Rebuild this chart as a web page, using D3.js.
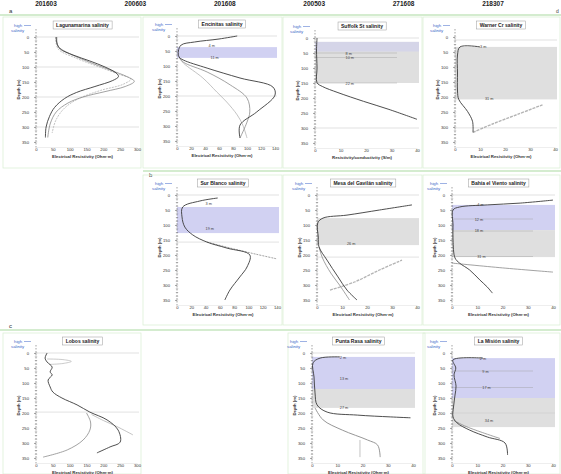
<!DOCTYPE html>
<html>
<head>
<meta charset="utf-8">
<script src="https://cdn.jsdelivr.net/npm/d3@7"></script>
<style>
  html, body { margin: 0; padding: 0; background: #fff; }
  svg { display: block; font-family: "Liberation Sans", Arial, sans-serif; }
</style>
</head>
<body>
<svg id="chart" width="561" height="474"></svg>
<script>
// ---- data -------------------------------------------------------------
const stripLabels = ["201603", "200603", "201608", "200503", "271608", "218307"];
const rowLetters = ["a", "b", "c"];
const depthTicks = [0, 50, 100, 150, 200, 250, 300, 350];
const xTicksWide = [0, 50, 100, 150, 200, 250, 300];
const xTicksMid = [0, 20, 40, 60, 80, 100, 120, 140];
const xTicksNarrow = [0, 10, 20, 30, 40];

// profiles: [value, depth]
const lagunaA = [[60,0],[62,20],[72,40],[110,60],[160,80],[205,100],[238,120],[245,132],[228,145],[175,165],[120,185],[85,205],[55,235],[40,265],[30,300],[28,335]];
const lagunaB = [[62,0],[65,30],[90,50],[150,80],[220,110],[272,133],[292,148],[265,165],[205,182],[140,200],[95,220],[60,250],[42,290],[35,335]];
const lagunaC = [[58,0],[66,40],[118,70],[188,100],[248,125],[282,140],[258,158],[192,178],[122,208],[82,240],[58,280],[48,320]];

const encinitasA = [[86,0],[60,10],[25,20],[6,30],[2,50],[3,70],[9,80],[43,107],[90,140],[137,170],[140,197],[114,253],[90,297],[90,340]];
const encinitasB = [[3,70],[9,87],[43,120],[76,163],[100,207],[104,253],[100,287],[90,340]];
const encinitasC = [[3,72],[9,90],[37,140],[57,187],[71,220],[86,263],[94,297],[100,340]];

const suffolkA = [[0.8,0],[0.6,40],[0.8,100],[0.8,149],[3,162],[9,182],[19,211],[29,238],[40,271]];

const warnerA = [[10,33],[2,33],[1,60],[1,120],[1,180],[1.5,208],[5,248],[7,281],[7.2,318]];
const warnerB = [[7.2,318],[15,290],[25,258],[35,226]];

const surA = [[57,10],[32,20],[8,40],[7,73],[11,107],[22,133],[42,157],[70,177],[102,200],[98,240],[88,273],[74,317],[67,350]];
const surB = [[42,157],[80,180],[110,197],[140,213]];

const mesaA = [[38,33],[25,50],[12,67],[2.4,77],[0.3,93],[0.5,140],[0.8,173],[4,217],[8.4,273],[12,317],[16,350]];
const mesaB = [[0.8,173],[2.2,210],[5.5,260],[9,300],[13,350]];
const mesaC = [[5.2,317],[15,290],[25,250],[34,217]];

const bahiaA = [[40,17],[27,27],[14,33],[3,40],[0.4,50],[0.4,100],[0.4,150],[1.2,210],[3,227],[7,250],[11,283],[14,307],[16,327]];
const bahiaB = [[0,227],[20,243],[40,257]];

const lobosA = [[33,0],[27,17],[33,30],[48,47],[42,63],[48,73],[36,90],[42,113],[50,130],[77,150],[122,173],[160,197],[211,223],[244,257],[250,297],[220,313],[181,333]];
const lobosB = [[150,200],[162,230],[160,257],[140,290],[93,323],[21,347]];
const lobosC = [[165,205],[200,225],[240,245],[288,273]];
const lobosD = [[33,20],[80,22],[105,28],[80,35],[40,38]];

const puntaA = [[11,13],[3.2,17],[0.4,33],[0.8,80],[1.2,133],[2,173],[6,197],[18,207],[31,213],[39,216]];
const puntaB = [[1.2,183],[4.4,223],[12,257],[22,290],[26,307],[27,347]];
const puntaC = [[19,290],[19,347]];

const misionA = [[12.3,17],[0.4,23],[1.5,50],[0.8,73],[1.6,110],[1.2,140],[0.6,180],[0.4,213],[2,233],[7,257],[14,280],[21,300],[22,340]];
const misionB = [[0.8,225],[5,243],[12,265],[19,285]];

// ---- layout / panel definitions --------------------------------------
const DARK = "#3a3a3a", GRAY = "#8a8a8a", LIGHT = "#b4b4b4";
const BLUE = "#c9c9f0", GREY = "#d9d9d9";

const panels = [
  { box:[3,17,138,151], left:36, right:137, top:37, xMax:300, xTicks:xTicksWide,
    title:"Lagunamarina salinity", xTitle:"Electrical Resistivity (Ohm·m)",
    bands:[], grid:[0,100,200,300],
    lines:[{d:lagunaC, c:LIGHT, w:0.8, dash:"2,1"},{d:lagunaB, c:GRAY, w:0.8},{d:lagunaA, c:DARK, w:0.9}], notes:[] },
  { box:[143,17,139,151], left:177, right:275, top:36, xMax:140, xTicks:xTicksMid,
    title:"Encinitas salinity", xTitle:"Electrical Resistivity (Ohm·m)",
    bands:[{from:37,to:73,fill:BLUE}], grid:[0,200],
    lines:[{d:encinitasC, c:LIGHT, w:0.8},{d:encinitasB, c:GRAY, w:0.8},{d:encinitasA, c:DARK, w:0.9}],
    notes:[{v:45,dep:30,t:"4 m"},{v:48,dep:70,t:"11 m"}] },
  { box:[283,17,139,151], left:315, right:417, top:38, xMax:40, xTicks:xTicksNarrow,
    title:"Suffolk St salinity", xTitle:"Resistivity/conductivity (S/m)",
    bands:[{from:13,to:150,fill:GREY},{from:13,to:45,fill:"#d3d3ea"}], grid:[0,300],
    rules:[50,65,150],
    lines:[{d:suffolkA, c:DARK, w:0.9}],
    notes:[{v:12,dep:50,t:"8 m"},{v:12,dep:65,t:"10 m"},{v:12,dep:150,t:"22 m"}] },
  { box:[423,17,137,151], left:455, right:555, top:37, xMax:40, xTicks:xTicksNarrow,
    title:"Warner Cr salinity", xTitle:"Electrical Resistivity (Ohm·m)",
    bands:[{from:33,to:208,fill:GREY}], grid:[10,303],
    lines:[{d:warnerB, c:LIGHT, w:1.4, dash:"3,1"},{d:warnerA, c:DARK, w:0.9}],
    notes:[{v:10,dep:30,t:"3 m"},{v:12,dep:205,t:"31 m"}] },

  { box:[143,175,139,150], left:177, right:277, top:195, xMax:140, xTicks:xTicksMid,
    title:"Sur Blanco salinity", xTitle:"Electrical Resistivity (Ohm·m)",
    bands:[{from:40,to:127,fill:BLUE}], grid:[0,157],
    lines:[{d:surB, c:GRAY, w:0.8, dash:"2,1"},{d:surA, c:DARK, w:0.9}],
    notes:[{v:40,dep:28,t:"3 m"},{v:40,dep:112,t:"19 m"}] },
  { box:[283,175,139,150], left:317, right:417, top:195, xMax:40, xTicks:xTicksNarrow,
    title:"Mesa del Gavilán salinity", xTitle:"Electrical Resistivity (Ohm·m)",
    bands:[{from:77,to:167,fill:GREY}], grid:[0,207],
    lines:[{d:mesaC, c:LIGHT, w:1.3, dash:"3,1"},{d:mesaB, c:GRAY, w:0.8},{d:mesaA, c:DARK, w:0.9}],
    notes:[{v:12,dep:160,t:"26 m"}] },
  { box:[423,175,137,150], left:452, right:553, top:195, xMax:40, xTicks:xTicksNarrow,
    title:"Bahía el Viento salinity", xTitle:"Electrical Resistivity (Ohm·m)",
    bands:[{from:33,to:117,fill:BLUE},{from:117,to:207,fill:GREY}], grid:[0],
    rules:[80,120,205],
    lines:[{d:bahiaB, c:GRAY, w:0.8},{d:bahiaA, c:DARK, w:0.9}],
    notes:[{v:10,dep:30,t:"4 m"},{v:9,dep:80,t:"12 m"},{v:9,dep:118,t:"18 m"},{v:10,dep:205,t:"31 m"}] },

  { box:[3,333,138,141], left:36, right:137, top:353, xMax:300, xTicks:xTicksWide,
    title:"Lobos salinity", xTitle:"Electrical Resistivity (Ohm·m)",
    bands:[], grid:[0,197],
    lines:[{d:lobosC, c:LIGHT, w:0.8},{d:lobosB, c:GRAY, w:0.8},{d:lobosD, c:LIGHT, w:0.7},{d:lobosA, c:DARK, w:0.9}],
    notes:[] },
  { box:[288,333,137,141], left:312, right:413, top:353, xMax:40, xTicks:xTicksNarrow,
    title:"Punta Rasa salinity", xTitle:"Electrical Resistivity (Ohm·m)",
    bands:[{from:13,to:120,fill:BLUE},{from:120,to:183,fill:GREY}], grid:[0],
    lines:[{d:puntaC, c:LIGHT, w:0.8},{d:puntaB, c:GRAY, w:0.9},{d:puntaA, c:DARK, w:0.9}],
    notes:[{v:11,dep:15,t:"2 m"},{v:11,dep:85,t:"13 m"},{v:11,dep:180,t:"27 m"}] },
  { box:[423,333,137,141], left:452, right:553, top:353, xMax:40, xTicks:xTicksNarrow,
    title:"La Misión salinity", xTitle:"Electrical Resistivity (Ohm·m)",
    bands:[{from:17,to:150,fill:BLUE},{from:150,to:247,fill:GREY}], grid:[200],
    rules:[60,115],
    lines:[{d:misionB, c:GRAY, w:0.8},{d:misionA, c:DARK, w:0.9}],
    notes:[{v:11,dep:18,t:"2 m"},{v:12,dep:60,t:"9 m"},{v:12,dep:115,t:"17 m"},{v:13,dep:225,t:"34 m"}] }
];

// ---- drawing ----------------------------------------------------------
const svg = d3.select("#chart");

// header strip with sample codes
const stripX = d3.scalePoint().domain(stripLabels).range([46, 493]);
svg.selectAll("text.strip").data(stripLabels).join("text")
  .attr("class", "strip")
  .attr("x", d => stripX(d)).attr("y", 6)
  .attr("text-anchor", "middle")
  .attr("font-size", 6.5).attr("font-weight", "bold").attr("fill", "#222")
  .text(d => d);
svg.append("text").attr("x", 556).attr("y", 13).attr("font-size", 5).attr("fill", "#444").text("d");

// row separators
const rowLines = [{y:15, x0:0, x1:561}, {y:171, x0:143, x1:561}, {y:330, x0:0, x1:561}];
svg.selectAll("line.row").data(rowLines).join("line")
  .attr("x1", d => d.x0).attr("x2", d => d.x1)
  .attr("y1", d => d.y).attr("y2", d => d.y)
  .attr("stroke", "#a9d9a0").attr("stroke-width", 1.2);
const letterPos = [[9,13],[149,177],[9,328]];
svg.selectAll("text.row").data(rowLetters).join("text")
  .attr("x", (d,i) => letterPos[i][0]).attr("y", (d,i) => letterPos[i][1])
  .attr("font-size", 6).attr("fill", "#333").text(d => d);

function drawPanel(p) {
  const g = svg.append("g");
  const bottom = p.top + 105;
  const x = d3.scaleLinear().domain([0, p.xMax]).range([p.left, p.right]);
  const y = d3.scaleLinear().domain([0, 350]).range([p.top, bottom]);

  g.append("rect")
    .attr("x", p.box[0]).attr("y", p.box[1]).attr("width", p.box[2]).attr("height", p.box[3])
    .attr("fill", "none").attr("stroke", "#dcefd6").attr("stroke-width", 0.8);

  // salinity bands
  g.selectAll("rect.band").data(p.bands).join("rect")
    .attr("x", p.left).attr("width", p.right - p.left + 2)
    .attr("y", d => y(d.from)).attr("height", d => y(d.to) - y(d.from))
    .attr("fill", d => d.fill).attr("opacity", 0.85);

  // light horizontal guides
  g.selectAll("line.grid").data(p.grid).join("line")
    .attr("x1", p.left).attr("x2", p.right + 2)
    .attr("y1", d => y(d)).attr("y2", d => y(d))
    .attr("stroke", "#cfcfcf").attr("stroke-width", 0.6);

  // marker rules inside bands
  g.selectAll("line.rule").data(p.rules || []).join("line")
    .attr("x1", p.left).attr("x2", p.right - 20)
    .attr("y1", d => y(d)).attr("y2", d => y(d))
    .attr("stroke", "#9a9a9a").attr("stroke-width", 0.4);

  // y axis
  g.append("line")
    .attr("x1", p.left).attr("x2", p.left).attr("y1", p.top - 8).attr("y2", bottom + 6)
    .attr("stroke", "#666").attr("stroke-width", 0.6).attr("stroke-dasharray", "1.5,1.5");
  const ya = g.append("g").attr("transform", `translate(${p.left},0)`)
    .call(d3.axisLeft(y).tickValues(depthTicks).tickSize(2).tickPadding(5));
  ya.select(".domain").remove();
  ya.selectAll("text").attr("font-size", 4.2).attr("fill", "#333");
  ya.selectAll("line").attr("stroke", "#555").attr("stroke-width", 0.5);
  const minor = d3.range(0, 351, 12.5);
  g.selectAll("line.minor").data(minor).join("line")
    .attr("x1", p.left - 1.2).attr("x2", p.left + 1.2)
    .attr("y1", d => y(d)).attr("y2", d => y(d))
    .attr("stroke", "#666").attr("stroke-width", 0.4);

  // x axis
  const xa = g.append("g").attr("transform", `translate(0,${bottom + 5})`)
    .call(d3.axisBottom(x).tickValues(p.xTicks).tickSize(0).tickPadding(1.5));
  xa.select(".domain").attr("stroke", "#ddd").attr("stroke-width", 0.5);
  xa.selectAll("text").attr("font-size", 4.2).attr("fill", "#333");

  g.append("text")
    .attr("x", (p.left + p.right) / 2 - 4).attr("y", bottom + 16)
    .attr("text-anchor", "middle").attr("font-size", 4.3).attr("font-weight", "bold").attr("fill", "#333")
    .text(p.xTitle);
  g.append("text")
    .attr("transform", `translate(${p.left - 16},${(p.top + bottom) / 2}) rotate(-90)`)
    .attr("text-anchor", "middle").attr("font-size", 4.3).attr("font-weight", "bold").attr("fill", "#333")
    .text("Depth (m)");

  // "high ← salinity" cue
  const cue = g.append("g").attr("fill", "#3d64c8").attr("font-size", 4.3);
  cue.append("text").attr("x", p.left - 22).attr("y", p.top - 10).text("high");
  cue.append("text").attr("x", p.left - 25).attr("y", p.top - 5).text("salinity");
  g.append("line")
    .attr("x1", p.left - 12).attr("x2", p.left - 5).attr("y1", p.top - 11.5).attr("y2", p.top - 11.5)
    .attr("stroke", "#3d64c8").attr("stroke-width", 0.5);

  // title box
  const title = g.append("text")
    .attr("x", (p.left + p.right) / 2 - 4).attr("y", p.top - 10)
    .attr("text-anchor", "middle").attr("font-size", 5).attr("font-weight", "bold").attr("fill", "#222")
    .text(p.title);
  const bb = title.node().getBBox();
  g.insert("rect", () => title.node())
    .attr("x", bb.x - 3).attr("y", bb.y - 1).attr("width", bb.width + 6).attr("height", bb.height + 2)
    .attr("fill", "#fff").attr("stroke", "#999").attr("stroke-width", 0.5);

  // profiles
  const line = d3.line().x(d => x(d[0])).y(d => y(d[1])).curve(d3.curveCatmullRom.alpha(0.5));
  g.selectAll("path.profile").data(p.lines).join("path")
    .attr("d", d => line(d.d))
    .attr("fill", "none").attr("stroke", d => d.c).attr("stroke-width", d => d.w)
    .attr("stroke-dasharray", d => d.dash || null);

  // depth notes
  g.selectAll("text.note").data(p.notes).join("text")
    .attr("x", d => x(d.v)).attr("y", d => y(d.dep) + 1.5)
    .attr("font-size", 3.8).attr("fill", "#444").text(d => d.t);
}

panels.forEach(drawPanel);
</script>
</body>
</html>
